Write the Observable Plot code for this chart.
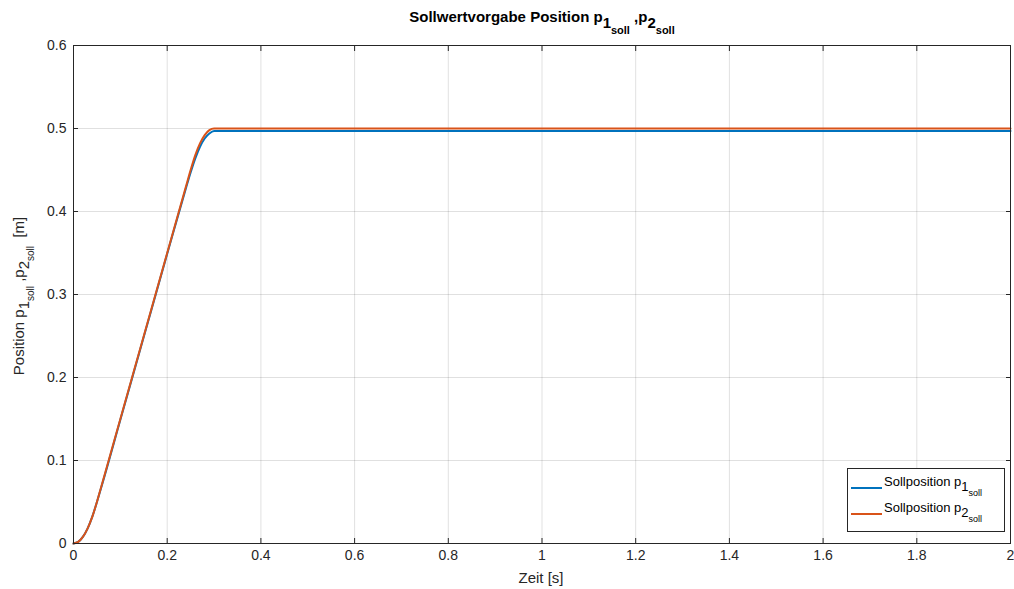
<!DOCTYPE html>
<html><head><meta charset="utf-8">
<script src="https://cdn.jsdelivr.net/npm/d3@7"></script>
<script src="https://cdn.jsdelivr.net/npm/@observablehq/plot@0.6"></script>
<style>
body{margin:0;background:#fff;}
#chart{position:relative;width:1014px;height:589px;}
svg{font-family:"Liberation Sans",Arial,Helvetica,sans-serif;}
</style></head>
<body><div id="chart"></div>
<script>
const time = [0, 0.01, 0.02, 0.03, 0.04, 0.05, 0.06, 0.1, 0.15, 0.2, 0.24, 0.25, 0.26, 0.27, 0.28, 0.29, 0.3, 2];
const p1soll = [0, 0.002, 0.008, 0.018, 0.032, 0.05, 0.069, 0.149, 0.249, 0.349, 0.428, 0.447, 0.464, 0.478, 0.488, 0.494, 0.497, 0.497];
const p2soll = [0, 0.002, 0.008, 0.018, 0.032, 0.05, 0.07, 0.15, 0.25, 0.35, 0.43, 0.45, 0.468, 0.482, 0.492, 0.498, 0.5, 0.5];
const xTicks = [0, 0.2, 0.4, 0.6, 0.8, 1, 1.2, 1.4, 1.6, 1.8, 2];
const yTicks = [0, 0.1, 0.2, 0.3, 0.4, 0.5, 0.6];
const colors = ["#0072BD", "#D95319"];

const d1 = time.map((t, i) => ({t, v: p1soll[i]}));
const d2 = time.map((t, i) => ({t, v: p2soll[i]}));
const fmt = d => String(d);
const axisColor = "#262626";

const chart = Plot.plot({
  width: 1014, height: 589,
  marginLeft: 73, marginRight: 4, marginTop: 45, marginBottom: 46,
  style: {fontFamily: "'Liberation Sans', Arial, sans-serif", fontSize: "13px", color: axisColor, background: "#fff"},
  x: {domain: [0, 2], ticks: xTicks},
  y: {domain: [0, 0.6], ticks: yTicks},
  marks: [
    Plot.gridX(xTicks, {stroke: "#000", strokeOpacity: 0.12}),
    Plot.gridY(yTicks, {stroke: "#000", strokeOpacity: 0.12}),
    Plot.axisX(xTicks, {anchor: "bottom", tickSize: -5, tickPadding: 12, tickFormat: fmt, stroke: axisColor, fill: axisColor, fontSize: 14, label: null}),
    Plot.axisX(xTicks, {anchor: "top", tickSize: -5, tickFormat: () => "", stroke: axisColor, label: null}),
    Plot.axisY(yTicks, {anchor: "left", tickSize: -5, tickPadding: 12, tickFormat: fmt, stroke: axisColor, fill: axisColor, fontSize: 14, label: null}),
    Plot.axisY(yTicks, {anchor: "right", tickSize: -5, tickFormat: () => "", stroke: axisColor, label: null}),
    Plot.line(d1, {x: "t", y: "v", stroke: colors[0], strokeWidth: 2, curve: "monotone-x"}),
    Plot.line(d2, {x: "t", y: "v", stroke: colors[1], strokeWidth: 2, curve: "monotone-x"}),
    Plot.frame({stroke: axisColor, strokeWidth: 1})
  ]
});
document.getElementById("chart").appendChild(chart);

const svg = d3.select(chart);
const font = "'Liberation Sans', Arial, sans-serif";

// Title
const title = svg.append("text").attr("x", 542).attr("y", 22).attr("text-anchor", "middle")
  .attr("font-family", font).attr("font-weight", "bold").attr("font-size", 15).attr("fill", "#000");
title.append("tspan").text("Sollwertvorgabe Position p");
title.append("tspan").attr("dy", 6).text("1");
title.append("tspan").attr("dy", 6).attr("font-size", 11).text("soll");
title.append("tspan").attr("dy", -12).text(" ,p");
title.append("tspan").attr("dy", 6).text("2");
title.append("tspan").attr("dy", 6).attr("font-size", 11).text("soll");

// X label
svg.append("text").attr("x", 541).attr("y", 583).attr("text-anchor", "middle")
  .attr("font-family", font).attr("font-size", 15).attr("fill", axisColor).text("Zeit [s]");

// Y label
const yl = svg.append("text").attr("transform", "translate(24,296) rotate(-90)").attr("text-anchor", "middle")
  .attr("font-family", font).attr("font-size", 15).attr("fill", axisColor);
yl.append("tspan").text("Position p");
yl.append("tspan").attr("dy", 5).text("1");
yl.append("tspan").attr("dy", 5).attr("font-size", 10).text("soll");
yl.append("tspan").attr("dy", -10).text(" ,p");
yl.append("tspan").attr("dy", 5).text("2");
yl.append("tspan").attr("dy", 5).attr("font-size", 10).text("soll");
yl.append("tspan").attr("dy", -10).text("  [m]");

// Legend
const lg = svg.append("g").attr("text-anchor", "start");
lg.append("rect").attr("x", 847.5).attr("y", 468.5).attr("width", 157).attr("height", 63)
  .attr("fill", "#fff").attr("stroke", axisColor).attr("stroke-width", 1);
[0, 1].forEach(i => {
  const cy = 488 + i * 26;
  lg.append("line").attr("x1", 851).attr("x2", 882).attr("y1", cy).attr("y2", cy)
    .attr("stroke", colors[i]).attr("stroke-width", 2);
  const t = lg.append("text").attr("x", 884).attr("y", cy - 2).attr("text-anchor", "start")
    .attr("font-family", font).attr("font-size", 13).attr("fill", "#000");
  t.append("tspan").text("Sollposition p");
  t.append("tspan").attr("dy", 5).text(String(i + 1));
  t.append("tspan").attr("dy", 5).attr("font-size", 9).text("soll");
});
</script></body></html>
